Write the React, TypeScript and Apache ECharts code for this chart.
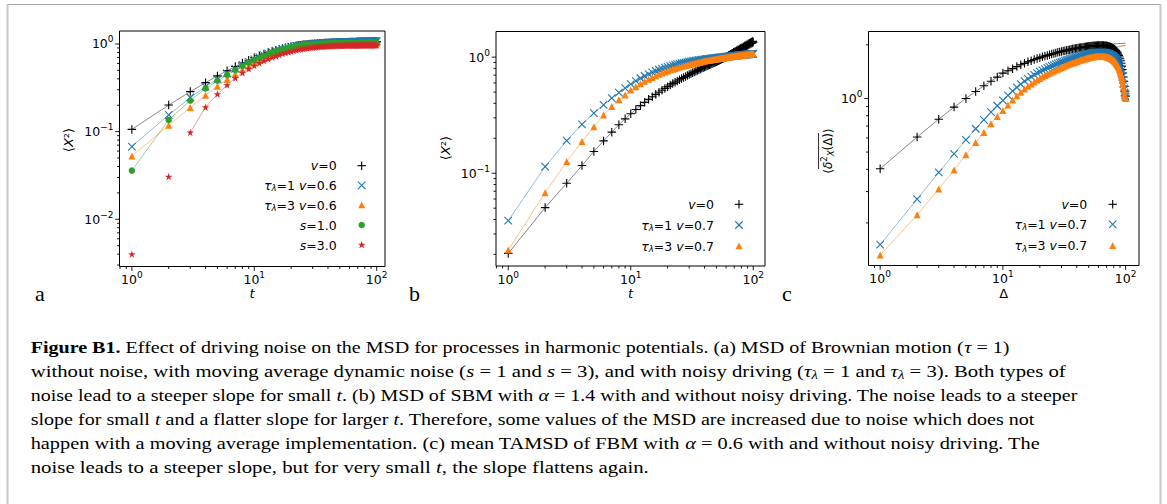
import React, { useEffect, useRef } from 'react';
import * as echarts from 'echarts';

// ---------- data ----------
const T = [1,2,3,4,5,6,7,8,9,10,11,12,13,14,15,16,17,18,19,20,21,22,23,24,25,26,27,28,29,30,31,32,33,34,35,36,37,38,39,40,41,42,43,44,45,46,47,48,49,50,51,52,53,54,55,56,57,58,59,60,61,62,63,64,65,66,67,68,69,70,71,72,73,74,75,76,77,78,79,80,81,82,83,84,85,86,87,88,89,90,91,92,93,94,95,96,97,98,99,100];

// panel a: MSD of Brownian motion in harmonic potential
const aNoNoise = [0.106,0.201,0.286,0.362,0.432,0.496,0.554,0.606,0.653,0.696,0.734,0.768,0.798,0.825,0.849,0.870,0.889,0.905,0.919,0.932,0.943,0.953,0.962,0.970,0.977,0.983,0.989,0.994,0.998,1.002,1.006,1.009,1.012,1.015,1.017,1.019,1.021,1.023,1.025,1.026,1.028,1.029,1.030,1.032,1.033,1.034,1.035,1.036,1.037,1.038,1.039,1.040,1.040,1.041,1.042,1.043,1.043,1.044,1.045,1.045,1.046,1.046,1.047,1.047,1.048,1.048,1.049,1.049,1.050,1.050,1.051,1.051,1.051,1.052,1.052,1.052,1.053,1.053,1.053,1.054,1.054,1.054,1.054,1.055,1.055,1.055,1.055,1.056,1.056,1.056,1.056,1.056,1.057,1.057,1.057,1.057,1.057,1.058,1.058,1.058];
const aTau1 = [0.0675,0.155,0.245,0.326,0.398,0.462,0.522,0.576,0.625,0.669,0.709,0.745,0.778,0.807,0.833,0.856,0.876,0.894,0.910,0.924,0.937,0.948,0.958,0.967,0.975,0.982,0.988,0.994,0.999,1.003,1.007,1.011,1.015,1.018,1.021,1.024,1.027,1.029,1.031,1.033,1.035,1.037,1.039,1.040,1.042,1.043,1.044,1.046,1.047,1.048,1.049,1.050,1.051,1.052,1.053,1.054,1.055,1.056,1.056,1.057,1.058,1.059,1.059,1.060,1.061,1.061,1.062,1.062,1.063,1.063,1.064,1.064,1.065,1.065,1.066,1.066,1.066,1.067,1.067,1.067,1.068,1.068,1.068,1.069,1.069,1.069,1.069,1.070,1.070,1.070,1.070,1.071,1.071,1.071,1.071,1.071,1.072,1.072,1.072,1.072];
const aTau3 = [0.0527,0.118,0.188,0.260,0.330,0.395,0.455,0.510,0.560,0.605,0.646,0.683,0.717,0.747,0.774,0.798,0.820,0.840,0.857,0.873,0.887,0.900,0.911,0.921,0.930,0.938,0.945,0.952,0.957,0.962,0.967,0.971,0.975,0.978,0.981,0.984,0.986,0.988,0.990,0.992,0.994,0.995,0.997,0.998,0.999,1.000,1.001,1.002,1.003,1.004,1.005,1.006,1.006,1.007,1.008,1.008,1.009,1.009,1.010,1.010,1.011,1.011,1.012,1.012,1.012,1.013,1.013,1.013,1.014,1.014,1.014,1.015,1.015,1.015,1.015,1.016,1.016,1.016,1.016,1.017,1.017,1.017,1.017,1.017,1.018,1.018,1.018,1.018,1.018,1.018,1.019,1.019,1.019,1.019,1.019,1.019,1.019,1.020,1.020,1.020];
const aS1 = [0.0359,0.136,0.226,0.310,0.380,0.443,0.505,0.560,0.610,0.655,0.697,0.734,0.768,0.798,0.825,0.849,0.870,0.888,0.904,0.918,0.930,0.941,0.951,0.959,0.966,0.973,0.978,0.983,0.987,0.991,0.994,0.997,1.000,1.002,1.004,1.006,1.008,1.009,1.011,1.012,1.013,1.014,1.015,1.016,1.017,1.018,1.019,1.019,1.020,1.021,1.021,1.022,1.022,1.023,1.023,1.024,1.024,1.025,1.025,1.025,1.026,1.026,1.026,1.027,1.027,1.027,1.027,1.028,1.028,1.028,1.028,1.028,1.029,1.029,1.029,1.029,1.029,1.029,1.030,1.030,1.030,1.030,1.030,1.030,1.030,1.030,1.031,1.031,1.031,1.031,1.031,1.031,1.031,1.031,1.031,1.031,1.031,1.031,1.032,1.032];
const aS3 = [0.0040,0.0307,0.098,0.190,0.268,0.340,0.410,0.470,0.522,0.567,0.607,0.643,0.676,0.705,0.731,0.755,0.776,0.795,0.812,0.827,0.841,0.853,0.864,0.874,0.883,0.891,0.898,0.905,0.911,0.916,0.921,0.925,0.929,0.933,0.936,0.939,0.942,0.944,0.946,0.948,0.950,0.952,0.953,0.955,0.956,0.957,0.958,0.959,0.960,0.961,0.962,0.962,0.963,0.964,0.964,0.965,0.965,0.966,0.966,0.967,0.967,0.967,0.968,0.968,0.968,0.969,0.969,0.969,0.969,0.970,0.970,0.970,0.970,0.970,0.971,0.971,0.971,0.971,0.971,0.971,0.972,0.972,0.972,0.972,0.972,0.972,0.972,0.972,0.972,0.973,0.973,0.973,0.973,0.973,0.973,0.973,0.973,0.973,0.973,0.973];

// panel b: MSD of SBM (alpha = 1.4)
const bNoNoise = [0.0204,0.0506,0.082,0.1165,0.154,0.19,0.226,0.262,0.294,0.325,0.354,0.382,0.408,0.433,0.456,0.478,0.499,0.519,0.538,0.557,0.575,0.592,0.608,0.624,0.639,0.654,0.668,0.682,0.695,0.708,0.721,0.733,0.745,0.757,0.768,0.779,0.790,0.801,0.811,0.821,0.831,0.841,0.851,0.860,0.870,0.879,0.888,0.897,0.906,0.915,0.924,0.933,0.942,0.951,0.960,0.969,0.978,0.987,0.996,1.005,1.020,1.019,1.040,1.039,1.060,1.058,1.080,1.077,1.100,1.096,1.118,1.112,1.138,1.129,1.157,1.146,1.177,1.163,1.195,1.180,1.213,1.198,1.232,1.214,1.250,1.231,1.268,1.247,1.285,1.263,1.302,1.279,1.320,1.295,1.336,1.311,1.352,1.327,1.368,1.343];
const bTau1 = [0.039,0.114,0.191,0.264,0.329,0.388,0.443,0.494,0.542,0.586,0.624,0.658,0.688,0.715,0.739,0.760,0.779,0.796,0.811,0.825,0.838,0.849,0.860,0.869,0.878,0.886,0.894,0.901,0.907,0.913,0.919,0.924,0.929,0.934,0.938,0.943,0.947,0.951,0.954,0.958,0.961,0.964,0.967,0.970,0.973,0.976,0.979,0.981,0.984,0.986,0.989,0.991,0.993,0.996,0.998,1.000,1.002,1.004,1.006,1.008,1.010,1.012,1.014,1.016,1.018,1.020,1.021,1.023,1.025,1.027,1.028,1.030,1.032,1.033,1.035,1.036,1.038,1.039,1.041,1.042,1.044,1.045,1.047,1.048,1.050,1.051,1.052,1.054,1.055,1.056,1.058,1.059,1.060,1.062,1.063,1.064,1.065,1.067,1.068,1.069];
const bTau3 = [0.0218,0.068,0.126,0.1875,0.252,0.318,0.376,0.429,0.473,0.52,0.556,0.589,0.619,0.645,0.669,0.691,0.711,0.729,0.745,0.760,0.774,0.787,0.799,0.810,0.821,0.831,0.840,0.849,0.857,0.865,0.872,0.879,0.886,0.892,0.898,0.904,0.909,0.915,0.920,0.925,0.929,0.934,0.938,0.942,0.946,0.950,0.954,0.958,0.961,0.965,0.968,0.971,0.975,0.978,0.981,0.984,0.987,0.989,0.992,0.995,0.997,1.000,1.003,1.005,1.008,1.010,1.012,1.015,1.017,1.019,1.021,1.024,1.026,1.028,1.030,1.032,1.034,1.036,1.038,1.040,1.042,1.044,1.045,1.047,1.049,1.051,1.052,1.054,1.056,1.057,1.059,1.061,1.062,1.064,1.065,1.067,1.068,1.070,1.071,1.073];

// panel c: mean TAMSD of FBM (alpha = 0.6)
const cNoNoise = [0.403,0.607,0.765,0.894,1.0,1.094,1.178,1.25,1.318,1.388,1.43,1.47,1.51,1.545,1.575,1.605,1.63,1.655,1.675,1.695,1.715,1.73,1.745,1.76,1.775,1.79,1.80,1.815,1.825,1.835,1.845,1.855,1.865,1.872,1.88,1.888,1.895,1.902,1.908,1.914,1.92,1.925,1.93,1.935,1.94,1.944,1.948,1.952,1.956,1.96,1.963,1.966,1.969,1.972,1.974,1.976,1.978,1.98,1.981,1.982,1.983,1.984,1.984,1.984,1.983,1.982,1.98,1.978,1.975,1.972,1.968,1.964,1.959,1.953,1.947,1.94,1.932,1.923,1.913,1.902,1.889,1.875,1.859,1.841,1.821,1.798,1.772,1.743,1.71,1.672,1.628,1.578,1.52,1.455,1.39,1.32,1.25,1.17,1.10,1.03];
const cTau1 = [0.151,0.272,0.384,0.489,0.586,0.676,0.759,0.838,0.91,0.975,1.04,1.1,1.155,1.205,1.25,1.29,1.325,1.357,1.386,1.413,1.438,1.461,1.483,1.503,1.522,1.54,1.557,1.573,1.588,1.602,1.616,1.629,1.641,1.653,1.664,1.675,1.685,1.695,1.704,1.713,1.722,1.73,1.738,1.745,1.752,1.759,1.765,1.771,1.776,1.781,1.786,1.79,1.794,1.798,1.801,1.804,1.806,1.808,1.81,1.811,1.812,1.812,1.812,1.811,1.81,1.808,1.806,1.803,1.8,1.796,1.791,1.786,1.78,1.773,1.765,1.757,1.748,1.738,1.727,1.715,1.702,1.688,1.672,1.655,1.636,1.615,1.592,1.566,1.537,1.505,1.468,1.427,1.38,1.328,1.27,1.205,1.14,1.08,1.04,1.02];
const cTau3 = [0.132,0.222,0.31,0.397,0.483,0.566,0.644,0.721,0.792,0.857,0.92,0.98,1.035,1.085,1.13,1.17,1.205,1.238,1.268,1.295,1.32,1.344,1.366,1.387,1.407,1.426,1.444,1.461,1.477,1.492,1.507,1.521,1.535,1.548,1.56,1.572,1.583,1.594,1.604,1.614,1.624,1.633,1.642,1.65,1.658,1.666,1.673,1.68,1.686,1.692,1.698,1.703,1.708,1.712,1.716,1.719,1.722,1.724,1.726,1.727,1.728,1.728,1.728,1.727,1.726,1.724,1.722,1.719,1.716,1.712,1.707,1.702,1.696,1.689,1.682,1.674,1.665,1.655,1.644,1.632,1.619,1.605,1.589,1.572,1.553,1.532,1.509,1.484,1.456,1.425,1.39,1.352,1.31,1.262,1.21,1.155,1.1,1.05,1.015,1.0];
// panel c theory curves
const D_TH = [1,2,3,4,5,6,7,8,9,10,12,15,20,25,30,40,50,60,70,80,90,100];
const cThNoNoise = [0.403,0.607,0.765,0.894,1.0,1.094,1.178,1.25,1.318,1.388,1.47,1.575,1.695,1.775,1.835,1.914,1.96,1.99,2.01,2.025,2.035,2.045];
const cThTau1 = [0.151,0.272,0.384,0.489,0.586,0.676,0.759,0.838,0.91,0.975,1.1,1.25,1.413,1.522,1.602,1.713,1.781,1.85,1.9,1.94,1.97,1.99];
const cThTau3 = [0.132,0.222,0.31,0.397,0.483,0.566,0.644,0.721,0.792,0.857,0.98,1.13,1.295,1.407,1.492,1.614,1.692,1.78,1.85,1.91,1.95,1.98];

// tick positions
const X_MAJOR = [1, 10, 100];
const X_MINOR = [0.8,0.9,2,3,4,5,6,7,8,9,20,30,40,50,60,70,80,90];
const Y_MAJOR = [0.001, 0.01, 0.1, 1, 10];
const Y_MINOR = [0.002,0.003,0.004,0.005,0.006,0.007,0.008,0.009,0.02,0.03,0.04,0.05,0.06,0.07,0.08,0.09,0.2,0.3,0.4,0.5,0.6,0.7,0.8,0.9,2,3,4,5,6,7,8,9];

// legend labels (rich text)
const LEG_A = ['{i|v}=0', '{i|τ}{s|λ}=1 {i|v}=0.6', '{i|τ}{s|λ}=3 {i|v}=0.6', '{i|s}=1.0', '{i|s}=3.0'];
const LEG_BC = ['{i|v}=0', '{i|τ}{s|λ}=1 {i|v}=0.7', '{i|τ}{s|λ}=3 {i|v}=0.7'];

const CAPTION = [
  '{b|Figure B1.} Effect of driving noise on the MSD for processes in harmonic potentials. (a) MSD of Brownian motion ({i|τ} = 1)',
  'without noise, with moving average dynamic noise ({i|s} = 1 and {i|s} = 3), and with noisy driving ({i|τ}{sub|λ} = 1 and {i|τ}{sub|λ} = 3). Both types of',
  'noise lead to a steeper slope for small {i|t}. (b) MSD of SBM with {i|α} = 1.4 with and without noisy driving. The noise leads to a steeper',
  'slope for small {i|t} and a flatter slope for larger {i|t}. Therefore, some values of the MSD are increased due to noise which does not',
  'happen with a moving average implementation. (c) mean TAMSD of FBM with {i|α} = 0.6 with and without noisy driving. The',
  'noise leads to a steeper slope, but for very small {i|t}, the slope flattens again.',
];

// ---------- styling / layout ----------
const SANS = 'DejaVu Sans';
const SERIF = 'Liberation Serif';
const FS = 12.5;
const C_BLACK = '#000000';
const C_BLUE = '#1f77b4';
const C_ORANGE = '#ff7f0e';
const C_GREEN = '#2ca02c';
const C_RED = '#d62728';

const PANELS = [
  { grid: { left: 119.5, top: 31, width: 265.5, height: 235.5 }, x: [-0.101, 2.068], y: [-2.539, 0.148] },
  { grid: { left: 496, top: 31.5, width: 269, height: 234.5 }, x: [-0.1, 2.096], y: [-1.799, 0.221] },
  { grid: { left: 868.5, top: 31.5, width: 270.5, height: 234 }, x: [-0.095, 2.109], y: [-0.938, 0.376] },
];

const SYM: Record<string, string> = {
  plus: 'path://M5,0L5,10M0,5L10,5',
  cross: 'path://M0,0L10,10M10,0L0,10',
  tri: 'triangle',
  circle: 'circle',
  star: 'path://M0,-1L0.2245,-0.309L0.951,-0.309L0.363,0.118L0.588,0.809L0,0.382L-0.588,0.809L-0.363,0.118L-0.951,-0.309L-0.2245,-0.309Z',
};
const SYM_SIZE: Record<string, number> = { plus: 8.5, cross: 7.5, tri: 7, circle: 6.5, star: 7.5 };

function powLabel(v: number): string {
  const l = Math.log10(v);
  const k = Math.round(l);
  if (Math.abs(l - k) > 1e-6) return '';
  return '{b|10}{s|' + (k < 0 ? '−' + String(-k) : String(k)) + '}';
}
const TICK_RICH = {
  b: { fontFamily: SANS, fontSize: FS, lineHeight: 18, color: '#000' },
  s: { fontFamily: SANS, fontSize: 9, lineHeight: 18, color: '#000', padding: [0, 0, 9, 0] },
};

function scatterSeries(gi: number, name: string, xs: number[], ys: number[], kind: string, color: string) {
  const open = kind === 'plus' || kind === 'cross';
  return {
    type: 'scatter', name, xAxisIndex: gi, yAxisIndex: gi, z: 4, silent: true,
    symbol: SYM[kind], symbolSize: SYM_SIZE[kind],
    itemStyle: open ? { color: 'none', borderColor: color, borderWidth: 1.1, opacity: 1 } : { color, borderWidth: 0, opacity: 1 },
    data: xs.map((x, i) => [x, ys[i]]),
  };
}
function lineSeries(gi: number, name: string, xs: number[], ys: number[], color: string) {
  return {
    type: 'line', name, xAxisIndex: gi, yAxisIndex: gi, z: 3, silent: true,
    symbol: 'none', showSymbol: false,
    lineStyle: { color, width: 0.8, opacity: 0.6 },
    data: xs.map((x, i) => [x, ys[i]]),
  };
}
function tickSeries(gi: number) {
  const p = PANELS[gi];
  const xmin = Math.pow(10, p.x[0]), xmax = Math.pow(10, p.x[1]);
  const ymin = Math.pow(10, p.y[0]), ymax = Math.pow(10, p.y[1]);
  const data: number[][] = [];
  X_MAJOR.filter((v) => v >= xmin && v <= xmax).forEach((v) => data.push([v, ymin, 0, 1]));
  X_MINOR.filter((v) => v >= xmin && v <= xmax).forEach((v) => data.push([v, ymin, 0, 0]));
  Y_MAJOR.filter((v) => v >= ymin && v <= ymax).forEach((v) => data.push([xmin, v, 1, 1]));
  Y_MINOR.filter((v) => v >= ymin && v <= ymax).forEach((v) => data.push([xmin, v, 1, 0]));
  return {
    type: 'custom', xAxisIndex: gi, yAxisIndex: gi, z: 6, silent: true, clip: false,
    data,
    renderItem: (params: any, api: any) => {
      const cs = params.coordSys;
      const pt = api.coord([api.value(0), api.value(1)]);
      const len = api.value(3) ? 4.3 : 2.5;
      let shape;
      if (api.value(2) === 0) {
        const y0 = cs.y + cs.height;
        shape = { x1: pt[0], y1: y0, x2: pt[0], y2: y0 + len };
      } else {
        const x0 = cs.x;
        shape = { x1: x0, y1: pt[1], x2: x0 - len, y2: pt[1] };
      }
      return { type: 'line', shape, style: { stroke: '#000', lineWidth: 0.9 } };
    },
  };
}

function keyMarker(kind: string, cx: number, cy: number, color: string): any[] {
  const st = { stroke: color, lineWidth: 1.1 };
  if (kind === 'plus') return [
    { type: 'line', shape: { x1: cx - 4.25, y1: cy, x2: cx + 4.25, y2: cy }, style: st },
    { type: 'line', shape: { x1: cx, y1: cy - 4.25, x2: cx, y2: cy + 4.25 }, style: st },
  ];
  if (kind === 'cross') return [
    { type: 'line', shape: { x1: cx - 3.75, y1: cy - 3.75, x2: cx + 3.75, y2: cy + 3.75 }, style: st },
    { type: 'line', shape: { x1: cx + 3.75, y1: cy - 3.75, x2: cx - 3.75, y2: cy + 3.75 }, style: st },
  ];
  if (kind === 'tri') return [{ type: 'polygon', shape: { points: [[cx, cy - 3.6], [cx + 3.5, cy + 3.2], [cx - 3.5, cy + 3.2]] }, style: { fill: color } }];
  if (kind === 'circle') return [{ type: 'circle', shape: { cx, cy, r: 3.25 }, style: { fill: color } }];
  const pts: number[][] = [];
  for (let k = 0; k < 10; k++) {
    const r = k % 2 === 0 ? 3.9 : 1.6;
    const a = -Math.PI / 2 + (k * Math.PI) / 5;
    pts.push([cx + r * Math.cos(a), cy + r * Math.sin(a)]);
  }
  return [{ type: 'polygon', shape: { points: pts }, style: { fill: color } }];
}

const LEG_RICH = {
  i: { fontStyle: 'italic', fontFamily: SANS, fontSize: FS, lineHeight: 16 },
  s: { fontStyle: 'italic', fontFamily: SANS, fontSize: 8.5, lineHeight: 16, padding: [6, 0, 0, 0] },
};

function legendGroup(labels: string[], kinds: string[], colors: string[], textRight: number, markerX: number, ys: number[]): any[] {
  const out: any[] = [];
  labels.forEach((lab, i) => {
    out.push({
      type: 'text', x: textRight, y: ys[i], silent: true,
      style: { text: lab, rich: LEG_RICH, fontFamily: SANS, fontSize: FS, lineHeight: 16, fill: '#000', align: 'right', verticalAlign: 'middle' },
    });
    keyMarker(kinds[i], markerX, ys[i], colors[i]).forEach((m) => out.push({ ...m, silent: true }));
  });
  return out;
}

function buildOption() {
  const grid = PANELS.map((p) => ({ ...p.grid, show: true, borderColor: '#000', borderWidth: 1, backgroundColor: 'transparent', containLabel: false, outerBoundsMode: 'none' }));
  const axisLabelX = { formatter: powLabel, rich: TICK_RICH, margin: 4, color: '#000', showMinLabel: true, showMaxLabel: true };
  const axisLabelY = { ...axisLabelX, margin: 6 };
  const xAxis = PANELS.map((p, i) => ({
    type: 'log', logBase: 10, gridIndex: i, min: Math.pow(10, p.x[0]), max: Math.pow(10, p.x[1]),
    axisLine: { show: false }, axisTick: { show: false }, splitLine: { show: false }, minorTick: { show: false },
    axisLabel: axisLabelX,
  }));
  const yAxis = PANELS.map((p, i) => ({
    type: 'log', logBase: 10, gridIndex: i, min: Math.pow(10, p.y[0]), max: Math.pow(10, p.y[1]),
    axisLine: { show: false }, axisTick: { show: false }, splitLine: { show: false }, minorTick: { show: false },
    axisLabel: axisLabelY,
  }));

  const series: any[] = [
    // panel a
    lineSeries(0, 'v=0', T, aNoNoise, C_BLACK),
    lineSeries(0, 'τλ=1 v=0.6', T, aTau1, C_BLUE),
    lineSeries(0, 'τλ=3 v=0.6', T, aTau3, C_ORANGE),
    lineSeries(0, 's=1.0', T, aS1, C_GREEN),
    lineSeries(0, 's=3.0', T.slice(2), aS3.slice(2), C_RED),
    scatterSeries(0, 'v=0', T, aNoNoise, 'plus', C_BLACK),
    scatterSeries(0, 'τλ=1 v=0.6', T, aTau1, 'cross', C_BLUE),
    scatterSeries(0, 'τλ=3 v=0.6', T, aTau3, 'tri', C_ORANGE),
    scatterSeries(0, 's=1.0', T, aS1, 'circle', C_GREEN),
    scatterSeries(0, 's=3.0', T, aS3, 'star', C_RED),
    tickSeries(0),
    // panel b
    lineSeries(1, 'v=0', T, bNoNoise, C_BLACK),
    lineSeries(1, 'τλ=1 v=0.7', T, bTau1, C_BLUE),
    lineSeries(1, 'τλ=3 v=0.7', T, bTau3, C_ORANGE),
    scatterSeries(1, 'v=0', T, bNoNoise, 'plus', C_BLACK),
    scatterSeries(1, 'τλ=1 v=0.7', T, bTau1, 'cross', C_BLUE),
    scatterSeries(1, 'τλ=3 v=0.7', T, bTau3, 'tri', C_ORANGE),
    tickSeries(1),
    // panel c
    lineSeries(2, 'v=0 theory', D_TH, cThNoNoise, C_BLACK),
    lineSeries(2, 'τλ=1 v=0.7 theory', D_TH, cThTau1, C_BLUE),
    lineSeries(2, 'τλ=3 v=0.7 theory', D_TH, cThTau3, C_ORANGE),
    scatterSeries(2, 'v=0', T, cNoNoise, 'plus', C_BLACK),
    scatterSeries(2, 'τλ=1 v=0.7', T, cTau1, 'cross', C_BLUE),
    scatterSeries(2, 'τλ=3 v=0.7', T, cTau3, 'tri', C_ORANGE),
    tickSeries(2),
  ];

  const capRich = {
    b: { fontFamily: SERIF, fontWeight: 'bold', fontSize: 17, lineHeight: 20 },
    i: { fontFamily: SERIF, fontStyle: 'italic', fontSize: 17, lineHeight: 20 },
    sub: { fontFamily: SERIF, fontStyle: 'italic', fontSize: 12, lineHeight: 20, padding: [7, 0, 0, 0] },
  };
  const capBase = [352.7, 376.8, 400.9, 425.0, 449.1, 473.2];
  const capScale = [1.18, 1.22, 1.178, 1.18, 1.195, 1.225];

  const labelRich = { i: { fontStyle: 'italic', fontFamily: SANS, fontSize: 13 } };
  const elements: any[] = [
    // page frame
    { type: 'line', shape: { x1: 7, y1: 4.5, x2: 1161, y2: 4.5 }, style: { stroke: '#a8a8a8', lineWidth: 1 }, silent: true },
    { type: 'line', shape: { x1: 7.5, y1: 4, x2: 7.5, y2: 504 }, style: { stroke: '#c8c8c8', lineWidth: 2 }, silent: true },
    { type: 'line', shape: { x1: 1160.5, y1: 4, x2: 1160.5, y2: 504 }, style: { stroke: '#c8c8c8', lineWidth: 2 }, silent: true },
    // axis titles
    { type: 'text', x: 252, y: 293.5, silent: true, style: { text: 't', fontFamily: SANS, fontStyle: 'italic', fontSize: 13, fill: '#000', align: 'center', verticalAlign: 'middle' } },
    { type: 'text', x: 630.5, y: 293.5, silent: true, style: { text: 't', fontFamily: SANS, fontStyle: 'italic', fontSize: 13, fill: '#000', align: 'center', verticalAlign: 'middle' } },
    { type: 'text', x: 1003.7, y: 293.5, silent: true, style: { text: 'Δ', fontFamily: SANS, fontSize: 13, fill: '#000', align: 'center', verticalAlign: 'middle' } },
    { type: 'text', x: 68, y: 140, rotation: Math.PI / 2, silent: true, style: { text: '⟨{i|X}²⟩', rich: labelRich, fontFamily: SANS, fontSize: 13, fill: '#000', align: 'center', verticalAlign: 'middle' } },
    { type: 'text', x: 445, y: 148, rotation: Math.PI / 2, silent: true, style: { text: '⟨{i|X}²⟩', rich: labelRich, fontFamily: SANS, fontSize: 13, fill: '#000', align: 'center', verticalAlign: 'middle' } },
    { type: 'text', x: 827.5, y: 151, rotation: Math.PI / 2, silent: true, style: { text: '⟨{i|δ}{p|2}{q|X}(Δ)⟩', rich: { i: { fontStyle: 'italic', fontFamily: SANS, fontSize: 12, lineHeight: 18 }, p: { fontFamily: SANS, fontSize: 8.5, lineHeight: 18, padding: [0, 0, 8, 0] }, q: { fontStyle: 'italic', fontFamily: SANS, fontSize: 8.5, lineHeight: 18, padding: [7, 0, 0, 0] } }, fontFamily: SANS, fontSize: 12, lineHeight: 18, fill: '#000', align: 'center', verticalAlign: 'middle' } },
    { type: 'line', shape: { x1: 818.5, y1: 133, x2: 818.5, y2: 169 }, style: { stroke: '#000', lineWidth: 0.8 }, silent: true },
    // panel letters
    { type: 'text', x: 35, y: 293, silent: true, style: { text: 'a', fontFamily: SERIF, fontSize: 22, fill: '#000', align: 'left', verticalAlign: 'middle' } },
    { type: 'text', x: 409, y: 293, silent: true, style: { text: 'b', fontFamily: SERIF, fontSize: 22, fill: '#000', align: 'left', verticalAlign: 'middle' } },
    { type: 'text', x: 782, y: 293, silent: true, style: { text: 'c', fontFamily: SERIF, fontSize: 22, fill: '#000', align: 'left', verticalAlign: 'middle' } },
  ];

  elements.push(...legendGroup(LEG_A, ['plus', 'cross', 'tri', 'circle', 'star'], [C_BLACK, C_BLUE, C_ORANGE, C_GREEN, C_RED], 336.7, 361.7, [165.7, 185.3, 205, 225, 245]));
  elements.push(...legendGroup(LEG_BC, ['plus', 'cross', 'tri'], [C_BLACK, C_BLUE, C_ORANGE], 714, 739, [204.3, 225, 246]));
  elements.push(...legendGroup(LEG_BC, ['plus', 'cross', 'tri'], [C_BLACK, C_BLUE, C_ORANGE], 1087.3, 1112.7, [204.3, 224.3, 245.7]));

  CAPTION.forEach((line, i) => {
    elements.push({
      type: 'text', x: 30.7, y: capBase[i] - 5.74, scaleX: capScale[i], silent: true,
      style: { text: line, rich: capRich, fontFamily: SERIF, fontSize: 17, lineHeight: 20, fill: '#000', align: 'left', verticalAlign: 'middle' },
    });
  });

  return {
    animation: false,
    backgroundColor: '#ffffff',
    grid, xAxis, yAxis, series,
    graphic: { elements },
  };
}

export default function App() {
  const ref = useRef<HTMLDivElement>(null);
  useEffect(() => {
    const chart = echarts.init(ref.current as HTMLDivElement, null, { renderer: 'svg' });
    chart.setOption(buildOption() as any);
    return () => chart.dispose();
  }, []);
  return <div ref={ref} style={{ position: 'absolute', left: 0, top: 0, width: 1167, height: 504, background: '#fff' }} />;
}
